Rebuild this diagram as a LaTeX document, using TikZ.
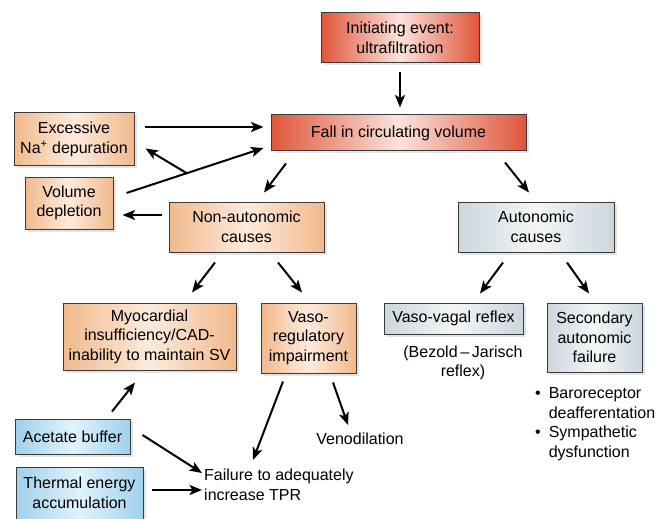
\documentclass[tikz,border=0pt]{standalone}
\usepackage{fontspec}
\setmainfont{Liberation Sans}
\usetikzlibrary{arrows.meta, shadows, calc}
\definecolor{redside}{HTML}{E0553A}
\definecolor{redmid}{HTML}{FBE3DC}
\definecolor{tanside}{HTML}{F1B98C}
\definecolor{tanmid}{HTML}{FCEBDD}
\definecolor{greyside}{HTML}{CBD6DC}
\definecolor{greymid}{HTML}{F3F6F8}
\definecolor{blueside}{HTML}{9FD0EC}
\definecolor{bluemid}{HTML}{E2F3FB}
\definecolor{boxline}{HTML}{3A3A3A}
\tikzset{
box/.style={ % Common look of every box
draw=boxline, line width=1pt, inner sep=0pt, align=center,
drop shadow={shadow xshift=2.5pt, shadow yshift=-2.5pt, fill=gray!60, opacity=.35}},
redbox/.style={box, left color=redside, right color=redside, middle color=redmid},
tanbox/.style={box, left color=tanside, right color=tanside, middle color=tanmid},
greybox/.style={box, left color=greyside, right color=greyside, middle color=greymid},
bluebox/.style={box, left color=blueside, right color=blueside, middle color=bluemid},
txt/.style={inner sep=0pt, align=center}, % Plain labels
arr/.style={ % Thick black arrows
->, >={Stealth[length=12.5pt,width=10pt,inset=3pt]}, line width=2pt}}

\begin{document}
\begin{tikzpicture}[x=1pt, y=-1pt, font=\fontsize{16}{19.5}\selectfont]
    \useasboundingbox (0,0) rectangle (657,519);
    
    \node[redbox, minimum width=158pt, minimum height=50pt] (init) at (400,38) {Initiating event:\\ultrafiltration};
    \node[redbox, minimum width=255pt, minimum height=36pt] (fall) at (398.5,133) {Fall in circulating volume};
    \node[tanbox, minimum width=120pt, minimum height=53pt] (exc) at (74,139.5) {Excessive\\Na\textsuperscript{+} depuration};
    \node[tanbox, minimum width=88pt, minimum height=52pt] (vol) at (69,203) {Volume\\depletion};
    \node[tanbox, minimum width=155pt, minimum height=50pt] (nonaut) at (246.5,227) {Non-autonomic\\causes};
    \node[greybox, minimum width=156pt, minimum height=50pt] (aut) at (536,227) {Autonomic\\causes};
    \node[tanbox, minimum width=173pt, minimum height=67pt] (myo) at (149.5,336.5) {Myocardial\\insufficiency/CAD-\\inability to maintain SV};
    \node[tanbox, minimum width=95pt, minimum height=70pt] (vasoreg) at (308.5,338) {Vaso-\\regulatory\\impairment};
    \node[greybox, minimum width=139pt, minimum height=31pt] (vagal) at (453.5,318.5) {Vaso-vagal reflex};
    \node[greybox, minimum width=95pt, minimum height=69pt] (second) at (594.5,337.5) {Secondary\\autonomic\\failure};
    \node[bluebox, minimum width=115pt, minimum height=35pt] (acet) at (72.5,436.5) {Acetate buffer};
    \node[bluebox, minimum width=127pt, minimum height=52pt] (therm) at (79.5,493) {Thermal energy\\accumulation};
    
    \node[txt] (bez) at (463,363) {(Bezold\,--\,Jarisch\\reflex)};
    \node[txt, anchor=north west] (bul) at (535,385) {\begin{tabular}{@{}l@{\hspace{8pt}}l@{}}\textbullet & Baroreceptor\\ & deafferentation\\ \textbullet & Sympathetic\\ & dysfunction\end{tabular}};
    \node[txt, anchor=north] (veno) at (360,433) {Venodilation};
    \node[txt, align=left, anchor=north west] (fail) at (204,469) {Failure to adequately\\increase TPR};
    
    \draw[arr] ([shift={(0,9)}]init.south) -- ([shift={(1.5,-7)}]fall.north);
    \draw[arr] ([shift={(10,-12.5)}]exc.east) -- ([shift={(-7,-6)}]fall.west);
    \draw[arr] ([shift={(13,-10)}]vol.east) coordinate (vs) -- ([shift={(-7,15)}]fall.west) coordinate (ve);
    \draw[arr] ($(vs)!0.44!(ve)$) -- ([shift={(11,-18)}]exc.south east);
    \draw[arr] ([shift={(-112.5,12)}]fall.south) -- ([shift={(17.5,-9)}]nonaut.north);
    \draw[arr] ([shift={(-7,-12)}]nonaut.west) -- ([shift={(9,12)}]vol.east);
    \draw[arr] ([shift={(106.5,11)}]fall.south) -- ([shift={(-7,-9)}]aut.north);
    
    \draw[arr] ([shift={(-31.5,10)}]nonaut.south) -- ([shift={(42.5,-10)}]myo.north);
    \draw[arr] ([shift={(31.5,10)}]nonaut.south) -- ([shift={(-6.5,-10)}]vasoreg.north);
    \draw[arr] ([shift={(-33,10)}]aut.south) -- ([shift={(26.5,-9)}]vagal.north);
    \draw[arr] ([shift={(31,10)}]aut.south) -- ([shift={(-5.5,-9)}]second.north);
    
    \draw[arr] ([shift={(39.5,-7)}]acet.north) -- ([shift={(-14.5,12)}]myo.south);
    \draw[arr] ([shift={(-25.5,8)}]vasoreg.south) -- ([shift={(49,-9)}]fail.north west);
    \draw[arr] ([shift={(24.5,9)}]vasoreg.south) -- ([shift={(-12,-8)}]veno.north);
    \draw[arr] ([shift={(12,-1.5)}]acet.east) -- ([shift={(-2,4)}]fail.north west);
    \draw[arr] ([shift={(8,-3)}]therm.east) -- ([shift={(-2,21)}]fail.north west);
    
\end{tikzpicture}
\end{document}
